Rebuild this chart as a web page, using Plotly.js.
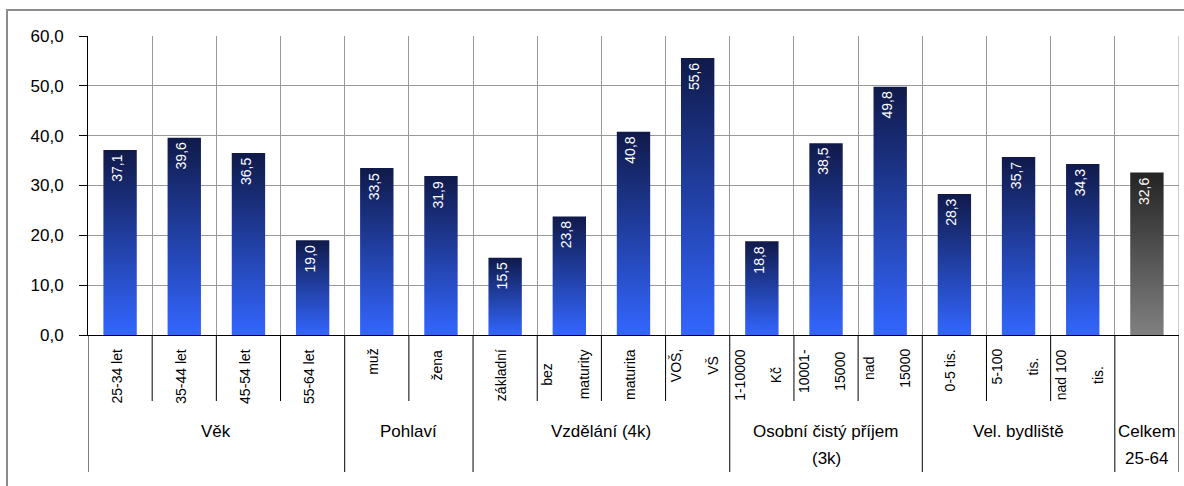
<!DOCTYPE html>
<html><head><meta charset="utf-8">
<script src="https://cdn.plot.ly/plotly-3.0.1.min.js"></script>
<style>
html,body{margin:0;padding:0;background:#fff;overflow:hidden}
#wrap{position:relative;width:1184px;height:486px}
#frame{position:absolute;left:6px;top:9px;width:1176px;height:477px;border-left:2px solid #8c8c8c;border-top:2px solid #8c8c8c;pointer-events:none}
</style>
</head><body><div id="wrap"><div id="chart" style="width:1184px;height:486px"></div><div id="frame"></div></div>
<script>
// ---- data ----
const tickLabels = [['25-34 let'],['35-44 let'],['45-54 let'],['55-64 let'],['muž'],['žena'],
  ['základní'],['bez','maturity'],['maturita'],['VOŠ,','VŠ'],
  ['1-10000','Kč'],['10001-','15000'],['nad','15000'],
  ['0-5 tis.'],['5-100','tis.'],['nad 100','tis.'],[]];
const groupNames = [['Věk'],['Pohlaví'],['Vzdělání (4k)'],['Osobní čistý příjem','(3k)'],['Vel. bydliště'],['Celkem','25-64']];
const groupSizes = [4,2,4,3,3,1];
const values = [37.1,39.6,36.5,19.0,33.5,31.9,15.5,23.8,40.8,55.6,18.8,38.5,49.8,28.3,35.7,34.3,32.6];
const totalIndex = 16;

// ---- geometry helpers (pixel -> paper) ----
const W = 1184, H = 486;
const M = {l: 88, r: 5, t: 36, b: 151};
const plotW = W - M.l - M.r, plotH = H - M.t - M.b;
const py = p => (H - M.b - p) / plotH;
const px = p => (p - M.l) / plotW;

const FONT = 'Liberation Sans, Arial, sans-serif';
const blueScale = [[0,'#3366ff'],[1,'#101a4a']];
const grayScale = [[0,'#808080'],[1,'#242424']];
const half = 0.26;

const traces = values.map((v, i) => ({
  type: 'scatter', mode: 'lines',
  x: [i-half, i+half, i+half, i-half, i-half],
  y: [0, 0, v, v, 0],
  fill: 'toself',
  fillcolor: i === totalIndex ? '#555' : '#2244aa',
  fillgradient: {type: 'vertical', colorscale: i === totalIndex ? grayScale : blueScale, start: 0, stop: v},
  line: {width: 0},
  hoverinfo: 'text', text: String(v).replace('.', ','),
  showlegend: false
}));

const annotations = [];
// data labels
values.forEach((v, i) => {
  annotations.push({
    x: i, y: v, xref: 'x', yref: 'y', text: v.toFixed(1).replace('.', ','),
    textangle: -90, showarrow: false, yanchor: 'top', xanchor: 'center', yshift: -3, xshift: -3,
    font: {family: FONT, size: 14, color: '#ffffff'}
  });
});
// category labels
tickLabels.forEach((lines, i) => {
  if (!lines.length) return;
  annotations.push({
    x: i, y: py(347), xref: 'x', yref: 'paper', text: lines.join('<br>\u00a0<br>'),
    textangle: -90, showarrow: false, yanchor: 'top', xanchor: 'center', xshift: -4, align: 'center',
    font: {family: FONT, size: 14, color: '#000'}
  });
});
// group labels and dividers
const shapes = [];
let start = 0;
const groupBounds = [-0.5];
groupSizes.forEach((n, g) => {
  const center = start + n / 2 - 0.5;
  groupNames[g].forEach((line, j) => {
    annotations.push({
      x: center, y: py(431 + 27 * j), xref: 'x', yref: 'paper', text: line,
      showarrow: false, yanchor: 'middle', xanchor: 'center',
      font: {family: FONT, size: 17, color: '#000'}
    });
  });
  start += n;
  groupBounds.push(start - 0.5);
});
for (let b = -0.5; b <= values.length - 0.5 + 1e-9; b += 1) {
  const isGroup = groupBounds.some(g => Math.abs(g - b) < 1e-6);
  shapes.push({type: 'line', xref: 'x', yref: 'paper', x0: b, x1: b, y0: 0, y1: isGroup ? py(472) : py(401),
    line: {color: '#000', width: 1}});
}
const lastB = values.length - 0.5;
shapes.push({type: 'line', xref: 'x', yref: 'paper', x0: lastB, x1: lastB, y0: 0, y1: 1, line: {color: '#999', width: 1}});

const innerBounds = [];
for (let b = 0.5; b < values.length - 0.5; b += 1) innerBounds.push(b);

const layout = {
  width: W, height: H,
  margin: M,
  paper_bgcolor: '#fff', plot_bgcolor: '#fff',
  separators: ', ',
  font: {family: FONT, color: '#000'},
  xaxis: {range: [-0.5, values.length - 0.5], showticklabels: false, ticks: '',
    tickmode: 'array', tickvals: innerBounds, showgrid: true, gridcolor: '#999', gridwidth: 1,
    showline: true, linecolor: '#000', linewidth: 1, zeroline: false, fixedrange: true},
  yaxis: {range: [0, 60], dtick: 10, tick0: 0, tickformat: '.1f', showgrid: true, gridcolor: '#999', gridwidth: 1,
    showline: true, linecolor: '#000', linewidth: 1, ticks: 'outside', ticklen: 8, tickcolor: '#000',
    ticklabelstandoff: 12, zeroline: false, tickfont: {family: FONT, size: 17, color: '#000'}, fixedrange: true},
  annotations: annotations,
  shapes: shapes,
  showlegend: false
};
Plotly.newPlot('chart', traces, layout, {displayModeBar: false, staticPlot: true});
</script></body></html>
